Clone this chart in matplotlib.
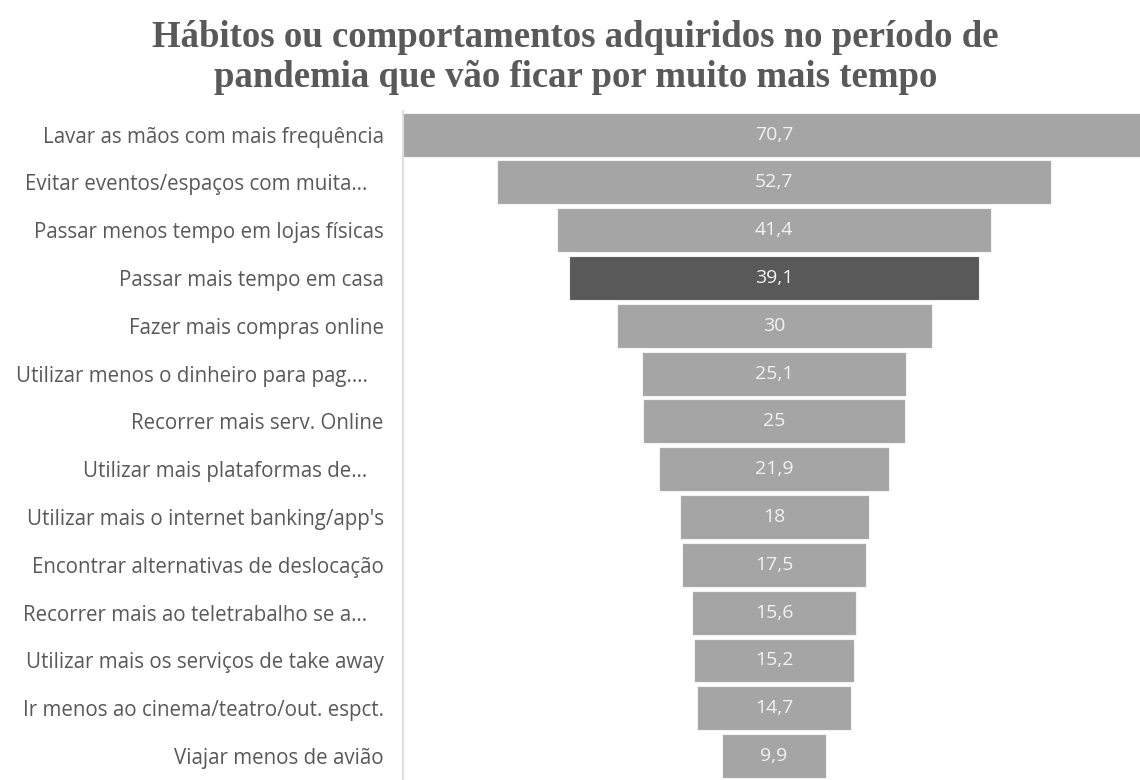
import matplotlib.pyplot as plt

habitos = [
    "Lavar as mãos com mais frequência",
    "Evitar eventos/espaços com muita…   ",
    "Passar menos tempo em lojas físicas",
    "Passar mais tempo em casa",
    "Fazer mais compras online",
    "Utilizar menos o dinheiro para pag.…   ",
    "Recorrer mais serv. Online",
    "Utilizar mais plataformas de…   ",
    "Utilizar mais o internet banking/app's",
    "Encontrar alternativas de deslocação",
    "Recorrer mais ao teletrabalho se a…   ",
    "Utilizar mais os serviços de take away",
    "Ir menos ao cinema/teatro/out. espct.",
    "Viajar menos de avião",
]
percent = [70.7, 52.7, 41.4, 39.1, 30, 25.1, 25, 21.9, 18, 17.5, 15.6, 15.2, 14.7, 9.9]
destaque = 3  # "Passar mais tempo em casa"

cinza = "#A5A5A5"
escuro = "#595959"
texto = "#595959"

fig = plt.figure(figsize=(11.4, 7.8), dpi=100)
ax = fig.add_axes([0.3535, 0.0, 0.651, 0.858])

topo = max(percent)
pos = list(range(len(percent)))
cores = [escuro if i == destaque else cinza for i in pos]
inicio = [(topo - v) / 2 for v in percent]

barras = ax.barh(pos, percent, left=inicio, height=0.92, color=cores,
                 edgecolor="#F2F2F2", linewidth=0.8)

for b, v in zip(barras, percent):
    ax.text(b.get_x() + b.get_width() / 2, b.get_y() + b.get_height() / 2,
            f"{v:g}".replace(".", ","), ha="center", va="center",
            color="#F2F2F2", fontsize=14, family="Open Sans")

ax.set_xlim(0, topo)
ax.set_ylim(len(percent) - 0.5, -0.5)
ax.set_yticks(pos)
ax.set_yticklabels(habitos, fontsize=14.8, family="Open Sans", color=texto)
ax.tick_params(axis="y", length=0, pad=14)
ax.set_xticks([])

for lado in ["top", "right", "bottom"]:
    ax.spines[lado].set_visible(False)
ax.spines["left"].set_color("#D9D9D9")
ax.spines["left"].set_linewidth(1.2)

fig.text(0.505, 0.926, "Hábitos ou comportamentos adquiridos no período de\n"
         "pandemia que vão ficar por muito mais tempo",
         ha="center", va="center", fontsize=26.5, fontweight="bold",
         family="Liberation Serif", color=texto, linespacing=1.2)

fig.savefig("out.png", dpi=100)
